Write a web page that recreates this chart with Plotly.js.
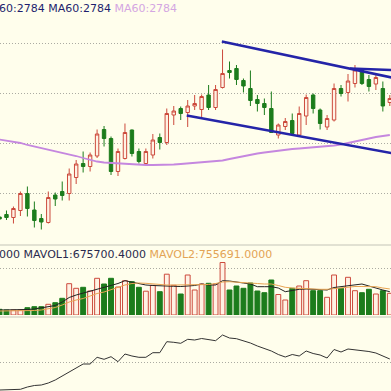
<!DOCTYPE html>
<html><head><meta charset="utf-8">
<script src="https://cdn.plot.ly/plotly-3.0.1.min.js"></script>
<style>html,body{margin:0;padding:0;background:#FFFEEC;} #chart{width:391px;height:391px;}</style>
</head><body><div id="chart"></div>
<script>
// ---- data ----
const openP = [2620,2625,2619,2633,2667,2634,2617,2609,2664,2671,
 2667,2699,2727,2721,2742,2795,2777,2711,2737,2794,
 2751,2727,2744,2779,2769,2824,2837,2829,2842,2835,
 2864,2839,2879,2913,2917,2893,2877,2855,2847,2837,
 2784,2801,2813,2784,2822,2864,2834,2800,2814,2877,
 2869,2887,2914,2895,2886,2877,2849];
const highP = [2623,2633,2641,2671,2681,2651,2626,2671,2669,2691,
 2717,2734,2751,2749,2795,2802,2781,2757,2807,2795,
 2757,2757,2786,2787,2837,2842,2841,2854,2864,2865,
 2884,2884,2955,2931,2924,2897,2913,2864,2857,2871,
 2807,2818,2827,2841,2865,2867,2837,2824,2887,2884,
 2906,2924,2917,2904,2904,2891,2864];
const lowP = [2614,2614,2607,2622,2621,2599,2595,2607,2642,2653,
 2653,2686,2709,2711,2738,2761,2704,2702,2735,2741,
 2727,2724,2737,2755,2764,2804,2814,2800,2834,2817,
 2834,2834,2877,2897,2884,2869,2842,2831,2824,2788,
 2777,2794,2782,2780,2804,2827,2795,2794,2811,2861,
 2851,2879,2884,2871,2874,2831,2842];
const closeP = [2616,2619,2637,2667,2637,2613,2610,2659,2656,2663,
 2706,2726,2721,2744,2786,2777,2711,2751,2789,2747,
 2731,2751,2774,2769,2827,2832,2827,2842,2847,2861,
 2839,2875,2907,2909,2895,2882,2853,2847,2839,2789,
 2804,2811,2787,2827,2859,2837,2807,2817,2877,2867,
 2892,2914,2887,2881,2899,2842,2857];
const ma60 = [2775,2773,2771,2768,2764,2761,2758,2755,2752,2749,
 2746,2742,2738,2734,2731,2729,2728,2727,2726,2725,
 2725,2724,2724,2724,2725,2725,2726,2727,2728,2729,
 2730,2731,2733,2736,2739,2742,2745,2747,2749,2751,
 2753,2755,2756,2757,2758,2759,2760,2761,2763,2765,
 2768,2771,2775,2777,2780,2782,2784];
const volume = [165300,145000,145000,145000,211700,240700,240700,310300,356700,484300,
 907700,774300,803300,696000,1064300,899000,1064300,812000,994700,965700,
 803300,690200,861300,675700,1183200,861300,609000,1160000,725000,899000,
 919300,899000,1522500,725000,841000,774300,928000,696000,646700,1015000,
 594500,435000,774300,841000,994700,704700,704700,513300,1160000,774300,
 1093300,704700,646700,745300,609000,704700,629300];
const mavol1 = [145000,145000,145000,145000,159500,174000,203000,232000,275500,377000,
 507500,580000,638000,681500,739500,812000,870000,913500,994700,957000,
 913500,870000,855500,841000,841000,832300,826500,841000,855500,899000,
 870000,870000,994700,986000,965700,928000,899000,820700,820700,820700,
 783000,675700,710500,745300,754000,745300,739500,725000,797500,820700,
 841000,855500,899000,841000,774300,725000,675700];
const mavol2 = [116000,116000,116000,116000,116000,130500,145000,174000,217500,290000,
 377000,435000,478500,551000,623500,667000,739500,812000,870000,913500,
 928000,919300,899000,884500,870000,870000,870000,870000,870000,870000,
 884500,913500,957000,965700,957000,942500,928000,913500,899000,899000,
 855500,803300,783000,768500,762700,754000,745300,745300,768500,797500,
 820700,826500,826500,820700,820700,783000,755691];
const indicator = [200,200,230,270,500,650,700,900,1200,1600,
 1950,2350,2800,2800,3470,3270,3530,3030,3800,3600,
 3470,3470,3930,3930,5030,4970,4870,5270,5200,5350,
 5250,5130,5700,5400,5330,5150,4900,4600,4350,4100,
 3750,3500,3750,3600,4100,3850,3700,3400,4250,4000,
 4300,4230,4150,4050,3900,3600,3300];
// drawn trend lines (bar index, price)
const trendUpperX = [31.9, 56.6],  trendUpperY = [2971, 2898];
const trendLowerX = [26.86, 56.6], trendLowerY = [2823, 2747];
const trendFlatX  = [50.29, 56.6], trendFlatY  = [2917, 2914];
// grid levels
const priceGrid = [2668, 2768, 2868, 2968];
const volGrid = [1363000];
const indGrid = [3000];
// header texts
const priceLabels = ['60:2784', 'MA60:2784', 'MA60:2784'];
const volLabels = ['000', 'MAVOL1:675700.4000', 'MAVOL2:755691.0000'];

// ---- styling ----
const BG = '#FFFEEC';
const UP = '#CC4A3C', UPFILL = '#FFF2E4', DOWN = '#1C7C1C';
const idx = openP.map((_, i) => i);
const isUp = idx.map(i => closeP[i] >= openP[i]);
const W = 391, H = 391;
const py = v => 1 - v / H;

const traces = [
  {type:'candlestick', x: idx, open: openP, high: highP, low: lowP, close: closeP,
   xaxis:'x', yaxis:'y', whiskerwidth:0, hoverinfo:'skip',
   increasing:{line:{color:UP, width:1}, fillcolor:UPFILL},
   decreasing:{line:{color:DOWN, width:1}, fillcolor:DOWN}},
  {type:'scatter', mode:'lines', x: idx, y: ma60, xaxis:'x', yaxis:'y',
   line:{color:'#C587DF', width:1.8}, hoverinfo:'skip'},
  {type:'scatter', mode:'lines', x: trendUpperX, y: trendUpperY, xaxis:'x', yaxis:'y',
   line:{color:'#2424A8', width:2.5}, hoverinfo:'skip'},
  {type:'scatter', mode:'lines', x: trendLowerX, y: trendLowerY, xaxis:'x', yaxis:'y',
   line:{color:'#2424A8', width:2.5}, hoverinfo:'skip'},
  {type:'scatter', mode:'lines', x: trendFlatX, y: trendFlatY, xaxis:'x', yaxis:'y',
   line:{color:'#2424A8', width:2.5}, hoverinfo:'skip'},
  {type:'bar', x: idx, y: volume, xaxis:'x', yaxis:'y2', width:0.7,
   marker:{color: isUp.map(u => u ? UPFILL : DOWN),
           line:{color: isUp.map(u => u ? UP : DOWN), width:1}}, hoverinfo:'skip'},
  {type:'scatter', mode:'lines', x: idx, y: mavol1, xaxis:'x', yaxis:'y2',
   line:{color:'#222222', width:1}, hoverinfo:'skip'},
  {type:'scatter', mode:'lines', x: idx, y: mavol2, xaxis:'x', yaxis:'y2',
   line:{color:'#E8A452', width:1}, hoverinfo:'skip'},
  {type:'scatter', mode:'lines', x: idx, y: indicator, xaxis:'x', yaxis:'y3',
   line:{color:'#333333', width:1}, hoverinfo:'skip'}
];

const yCommon = {showticklabels:false, ticks:'', zeroline:false, showline:false,
  gridcolor:'#ABABA2', griddash:'1px,2px', gridwidth:1, fixedrange:true, anchor:'x'};

const layout = {
  width: W, height: H, margin:{l:0, r:0, t:0, b:0},
  paper_bgcolor: BG, plot_bgcolor: BG, showlegend:false, hovermode:false,
  xaxis:{range:[0.5/6.97, (W + 0.5)/6.97], showticklabels:false, ticks:'', showgrid:false,
    zeroline:false, showline:false, fixedrange:true, rangeslider:{visible:false}, anchor:'y3'},
  yaxis: Object.assign({}, yCommon, {domain:[py(245), 1], range:[2564, 3054], tickvals: priceGrid}),
  yaxis2: Object.assign({}, yCommon, {domain:[py(315), py(247)], range:[0, 1972000], tickvals: volGrid}),
  yaxis3: Object.assign({}, yCommon, {domain:[0, py(318)], range:[100, 7400], tickvals: indGrid}),
  shapes: [
    {type:'line', xref:'paper', yref:'paper', x0:0, x1:1, y0:py(245), y1:py(245), line:{color:'#C4C4B8', width:1}},
    {type:'line', xref:'paper', yref:'paper', x0:0, x1:1, y0:py(317), y1:py(317), line:{color:'#C4C4B8', width:1}}
  ],
  annotations: [
    {xref:'paper', yref:'paper', x:-3.5/W, y:py(8.5), xanchor:'left', yanchor:'middle', showarrow:false,
     font:{family:'DejaVu Sans', size:11, color:'#1E1E6E'},
     text: priceLabels[0] + ' ' + priceLabels[1] + ' <span style="color:#D4A6E2">' + priceLabels[2] + '</span>'},
    {xref:'paper', yref:'paper', x:-3.5/W, y:py(254), xanchor:'left', yanchor:'middle', showarrow:false,
     font:{family:'DejaVu Sans', size:11, color:'#2A2A4E'},
     text: volLabels[0] + ' ' + volLabels[1] + ' <span style="color:#E3A455">' + volLabels[2] + '</span>'}
  ]
};

Plotly.newPlot('chart', traces, layout, {displayModeBar:false, staticPlot:true});
</script>
</body></html>
